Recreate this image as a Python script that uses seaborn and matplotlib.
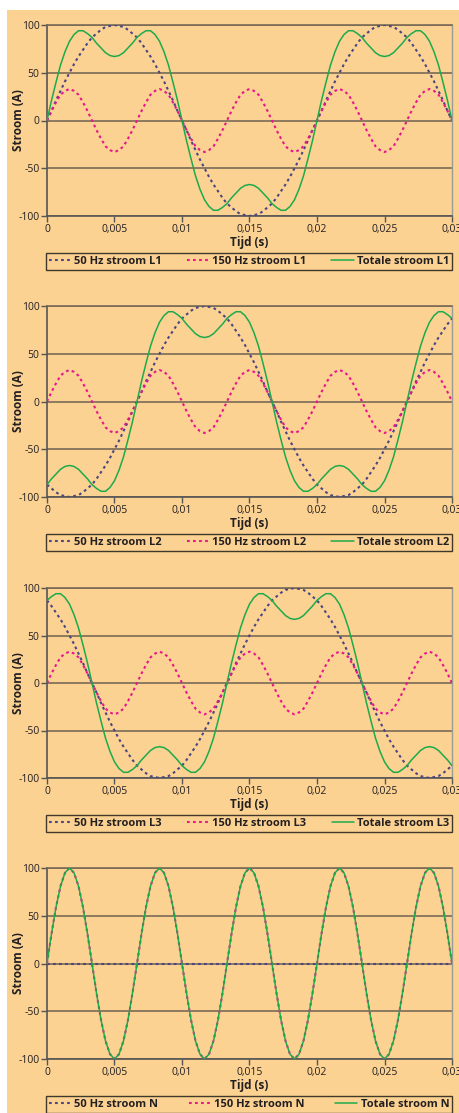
import matplotlib
matplotlib.use("Agg")
import matplotlib.pyplot as plt
import seaborn as sns
from matplotlib.lines import Line2D
from matplotlib.patches import Rectangle

# ---------------- data ----------------
t = [0.0, 0.000333, 0.000667, 0.001, 0.001333, 0.001667, 0.002, 0.002333, 0.002667, 0.003,
     0.003333, 0.003667, 0.004, 0.004333, 0.004667, 0.005, 0.005333, 0.005667, 0.006, 0.006333,
     0.006667, 0.007, 0.007333, 0.007667, 0.008, 0.008333, 0.008667, 0.009, 0.009333, 0.009667,
     0.01, 0.010333, 0.010667, 0.011, 0.011333, 0.011667, 0.012, 0.012333, 0.012667, 0.013,
     0.013333, 0.013667, 0.014, 0.014333, 0.014667, 0.015, 0.015333, 0.015667, 0.016, 0.016333,
     0.016667, 0.017, 0.017333, 0.017667, 0.018, 0.018333, 0.018667, 0.019, 0.019333, 0.019667,
     0.02, 0.020333, 0.020667, 0.021, 0.021333, 0.021667, 0.022, 0.022333, 0.022667, 0.023,
     0.023333, 0.023667, 0.024, 0.024333, 0.024667, 0.025, 0.025333, 0.025667, 0.026, 0.026333,
     0.026667, 0.027, 0.027333, 0.027667, 0.028, 0.028333, 0.028667, 0.029, 0.029333, 0.029667,
     0.03]

i50_L1 = [0, 10, 21, 31, 41, 50, 59, 67, 74, 81,
          87, 91, 95, 98, 99, 100, 99, 98, 95, 91,
          87, 81, 74, 67, 59, 50, 41, 31, 21, 10,
          0, -10, -21, -31, -41, -50, -59, -67, -74, -81,
          -87, -91, -95, -98, -99, -100, -99, -98, -95, -91,
          -87, -81, -74, -67, -59, -50, -41, -31, -21, -10,
          0, 10, 21, 31, 41, 50, 59, 67, 74, 81,
          87, 91, 95, 98, 99, 100, 99, 98, 95, 91,
          87, 81, 74, 67, 59, 50, 41, 31, 21, 10,
          0]
i150_L1 = [0, 10, 19, 27, 31, 33, 31, 27, 19, 10,
           0, -10, -19, -27, -31, -33, -31, -27, -19, -10,
           0, 10, 19, 27, 31, 33, 31, 27, 19, 10,
           0, -10, -19, -27, -31, -33, -31, -27, -19, -10,
           0, 10, 19, 27, 31, 33, 31, 27, 19, 10,
           0, -10, -19, -27, -31, -33, -31, -27, -19, -10,
           0, 10, 19, 27, 31, 33, 31, 27, 19, 10,
           0, -10, -19, -27, -31, -33, -31, -27, -19, -10,
           0, 10, 19, 27, 31, 33, 31, 27, 19, 10,
           0]
tot_L1 = [0, 21, 40, 58, 72, 83, 90, 94, 94, 91,
          87, 81, 76, 71, 68, 67, 68, 71, 76, 81,
          87, 91, 94, 94, 90, 83, 72, 58, 40, 21,
          0, -21, -40, -58, -72, -83, -90, -94, -94, -91,
          -87, -81, -76, -71, -68, -67, -68, -71, -76, -81,
          -87, -91, -94, -94, -90, -83, -72, -58, -40, -21,
          0, 21, 40, 58, 72, 83, 90, 94, 94, 91,
          87, 81, 76, 71, 68, 67, 68, 71, 76, 81,
          87, 91, 94, 94, 90, 83, 72, 58, 40, 21,
          0]

i50_L2 = [-87, -91, -95, -98, -99, -100, -99, -98, -95, -91,
          -87, -81, -74, -67, -59, -50, -41, -31, -21, -10,
          0, 10, 21, 31, 41, 50, 59, 67, 74, 81,
          87, 91, 95, 98, 99, 100, 99, 98, 95, 91,
          87, 81, 74, 67, 59, 50, 41, 31, 21, 10,
          0, -10, -21, -31, -41, -50, -59, -67, -74, -81,
          -87, -91, -95, -98, -99, -100, -99, -98, -95, -91,
          -87, -81, -74, -67, -59, -50, -41, -31, -21, -10,
          0, 10, 21, 31, 41, 50, 59, 67, 74, 81,
          87]
i150_L2 = [0, 10, 19, 27, 31, 33, 31, 27, 19, 10,
           0, -10, -19, -27, -31, -33, -31, -27, -19, -10,
           0, 10, 19, 27, 31, 33, 31, 27, 19, 10,
           0, -10, -19, -27, -31, -33, -31, -27, -19, -10,
           0, 10, 19, 27, 31, 33, 31, 27, 19, 10,
           0, -10, -19, -27, -31, -33, -31, -27, -19, -10,
           0, 10, 19, 27, 31, 33, 31, 27, 19, 10,
           0, -10, -19, -27, -31, -33, -31, -27, -19, -10,
           0, 10, 19, 27, 31, 33, 31, 27, 19, 10,
           0]
tot_L2 = [-87, -81, -76, -71, -68, -67, -68, -71, -76, -81,
          -87, -91, -94, -94, -90, -83, -72, -58, -40, -21,
          0, 21, 40, 58, 72, 83, 90, 94, 94, 91,
          87, 81, 76, 71, 68, 67, 68, 71, 76, 81,
          87, 91, 94, 94, 90, 83, 72, 58, 40, 21,
          0, -21, -40, -58, -72, -83, -90, -94, -94, -91,
          -87, -81, -76, -71, -68, -67, -68, -71, -76, -81,
          -87, -91, -94, -94, -90, -83, -72, -58, -40, -21,
          0, 21, 40, 58, 72, 83, 90, 94, 94, 91,
          87]

i50_L3 = [87, 81, 74, 67, 59, 50, 41, 31, 21, 10,
          0, -10, -21, -31, -41, -50, -59, -67, -74, -81,
          -87, -91, -95, -98, -99, -100, -99, -98, -95, -91,
          -87, -81, -74, -67, -59, -50, -41, -31, -21, -10,
          0, 10, 21, 31, 41, 50, 59, 67, 74, 81,
          87, 91, 95, 98, 99, 100, 99, 98, 95, 91,
          87, 81, 74, 67, 59, 50, 41, 31, 21, 10,
          0, -10, -21, -31, -41, -50, -59, -67, -74, -81,
          -87, -91, -95, -98, -99, -100, -99, -98, -95, -91,
          -87]
i150_L3 = [0, 10, 19, 27, 31, 33, 31, 27, 19, 10,
           0, -10, -19, -27, -31, -33, -31, -27, -19, -10,
           0, 10, 19, 27, 31, 33, 31, 27, 19, 10,
           0, -10, -19, -27, -31, -33, -31, -27, -19, -10,
           0, 10, 19, 27, 31, 33, 31, 27, 19, 10,
           0, -10, -19, -27, -31, -33, -31, -27, -19, -10,
           0, 10, 19, 27, 31, 33, 31, 27, 19, 10,
           0, -10, -19, -27, -31, -33, -31, -27, -19, -10,
           0, 10, 19, 27, 31, 33, 31, 27, 19, 10,
           0]
tot_L3 = [87, 91, 94, 94, 90, 83, 72, 58, 40, 21,
          0, -21, -40, -58, -72, -83, -90, -94, -94, -91,
          -87, -81, -76, -71, -68, -67, -68, -71, -76, -81,
          -87, -91, -94, -94, -90, -83, -72, -58, -40, -21,
          0, 21, 40, 58, 72, 83, 90, 94, 94, 91,
          87, 81, 76, 71, 68, 67, 68, 71, 76, 81,
          87, 91, 94, 94, 90, 83, 72, 58, 40, 21,
          0, -21, -40, -58, -72, -83, -90, -94, -94, -91,
          -87, -81, -76, -71, -68, -67, -68, -71, -76, -81,
          -87]

i50_N = [0, 0, 0, 0, 0, 0, 0, 0, 0, 0,
         0, 0, 0, 0, 0, 0, 0, 0, 0, 0,
         0, 0, 0, 0, 0, 0, 0, 0, 0, 0,
         0, 0, 0, 0, 0, 0, 0, 0, 0, 0,
         0, 0, 0, 0, 0, 0, 0, 0, 0, 0,
         0, 0, 0, 0, 0, 0, 0, 0, 0, 0,
         0, 0, 0, 0, 0, 0, 0, 0, 0, 0,
         0, 0, 0, 0, 0, 0, 0, 0, 0, 0,
         0, 0, 0, 0, 0, 0, 0, 0, 0, 0,
         0]
i150_N = [0, 31, 59, 81, 95, 100, 95, 81, 59, 31,
          0, -31, -59, -81, -95, -100, -95, -81, -59, -31,
          0, 31, 59, 81, 95, 100, 95, 81, 59, 31,
          0, -31, -59, -81, -95, -100, -95, -81, -59, -31,
          0, 31, 59, 81, 95, 100, 95, 81, 59, 31,
          0, -31, -59, -81, -95, -100, -95, -81, -59, -31,
          0, 31, 59, 81, 95, 100, 95, 81, 59, 31,
          0, -31, -59, -81, -95, -100, -95, -81, -59, -31,
          0, 31, 59, 81, 95, 100, 95, 81, 59, 31,
          0]
tot_N = [0, 31, 59, 81, 95, 100, 95, 81, 59, 31,
         0, -31, -59, -81, -95, -100, -95, -81, -59, -31,
         0, 31, 59, 81, 95, 100, 95, 81, 59, 31,
         0, -31, -59, -81, -95, -100, -95, -81, -59, -31,
         0, 31, 59, 81, 95, 100, 95, 81, 59, 31,
         0, -31, -59, -81, -95, -100, -95, -81, -59, -31,
         0, 31, 59, 81, 95, 100, 95, 81, 59, 31,
         0, -31, -59, -81, -95, -100, -95, -81, -59, -31,
         0, 31, 59, 81, 95, 100, 95, 81, 59, 31,
         0]

phases = ["L1", "L2", "L3", "N"]
x_ticks = [0, 0.005, 0.01, 0.015, 0.02, 0.025, 0.03]
x_ticklabels = ["0", "0,005", "0,01", "0,015", "0,02", "0,025", "0,03"]
y_ticks = [-100, -50, 0, 50, 100]
y_ticklabels = ["-100", "-50", "0", "50", "100"]
x_label = "Tijd (s)"
y_label = "Stroom (A)"
series_names = ["50 Hz stroom", "150 Hz stroom", "Totale stroom"]

panel_data = [
    (i50_L1, i150_L1, tot_L1),
    (i50_L2, i150_L2, tot_L2),
    (i50_L3, i150_L3, tot_L3),
    (i50_N, i150_N, tot_N),
]

# ---------------- style ----------------
sns.set_style("white")
plt.rcParams['font.family'] = ['Open Sans', 'DejaVu Sans']

BG = "#FCD293"
C50 = "#4A4681"
C150 = "#E8168B"
CTOT = "#1DAA4A"
GRID = "#7A6A55"
TXT = "#231F20"

W, H = 460, 1113
fig = plt.figure(figsize=(W / 100, H / 100), dpi=100)
fig.patch.set_facecolor("white")
fig.patches.append(Rectangle((7 / W, 0), 1 - 7 / W, 1 - 10 / H,
                             transform=fig.transFigure, facecolor=BG,
                             edgecolor="none", zorder=-10))

panel_px = [(25, 216), (306, 497), (588, 778), (868, 1059)]
left_px, right_px = 47, 452

dash_style = (0, (1.3, 1.6))
DLW = 1.5

for (top, bot), phase, (a50, a150, atot) in zip(panel_px, phases, panel_data):
    ax = fig.add_axes([left_px / W, 1 - bot / H, (right_px - left_px) / W, (bot - top) / H])
    ax.set_facecolor(BG)

    sns.lineplot(x=t, y=a50, ax=ax, color=C50, lw=DLW, linestyle=dash_style,
                 estimator=None, sort=False, zorder=3)
    sns.lineplot(x=t, y=a150, ax=ax, color=C150, lw=DLW, linestyle=dash_style,
                 estimator=None, sort=False, zorder=4)
    sns.lineplot(x=t, y=atot, ax=ax, color=CTOT, lw=1.1,
                 estimator=None, sort=False, zorder=5)

    ax.set_xlim(0, 0.03)
    ax.set_ylim(-100, 100)
    ax.set_xticks(x_ticks)
    ax.set_xticklabels(x_ticklabels)
    ax.set_yticks(y_ticks)
    ax.set_yticklabels(y_ticklabels)
    ax.tick_params(axis="both", which="both", direction="out", length=4, width=1,
                   color="#555555", labelcolor=TXT, labelsize=7.5, pad=1.5,
                   bottom=True, left=True)

    ax.grid(axis="y", color=GRID, lw=1.2, zorder=1)
    ax.grid(axis="x", visible=False)
    ax.set_axisbelow(True)

    for side in ["left", "bottom"]:
        ax.spines[side].set_color("#555555")
        ax.spines[side].set_linewidth(1.2)
    ax.spines["top"].set_color(GRID)
    ax.spines["top"].set_linewidth(1.2)
    ax.spines["right"].set_color("#9A9A9A")
    ax.spines["right"].set_linewidth(1.0)

    ax.set_xlabel(x_label, fontsize=8.5, fontweight="bold", color=TXT, labelpad=1)
    ax.set_ylabel(y_label, fontsize=8.5, fontweight="bold", color=TXT)
    ax.yaxis.set_label_coords(-0.055, 0.5)

    handles = [
        Line2D([], [], color=C50, lw=DLW, linestyle=dash_style),
        Line2D([], [], color=C150, lw=DLW, linestyle=dash_style),
        Line2D([], [], color=CTOT, lw=1.1),
    ]
    labels = [f"{n} {phase}" for n in series_names]
    hpx = bot - top
    leg = ax.legend(handles, labels, loc="center", ncol=3, mode="expand",
                    bbox_to_anchor=(-0.003, -54 / hpx, 1.003, 17 / hpx),
                    borderaxespad=0, frameon=True, fancybox=False,
                    handlelength=2.0, handletextpad=0.3, columnspacing=1.0,
                    borderpad=0.25,
                    prop={"size": 8, "weight": "bold"})
    leg.get_frame().set_edgecolor("#111111")
    leg.get_frame().set_linewidth(1.0)
    leg.get_frame().set_facecolor(BG)
    for txt in leg.get_texts():
        txt.set_color(TXT)

fig.savefig("out.png", dpi=100, facecolor="white")
